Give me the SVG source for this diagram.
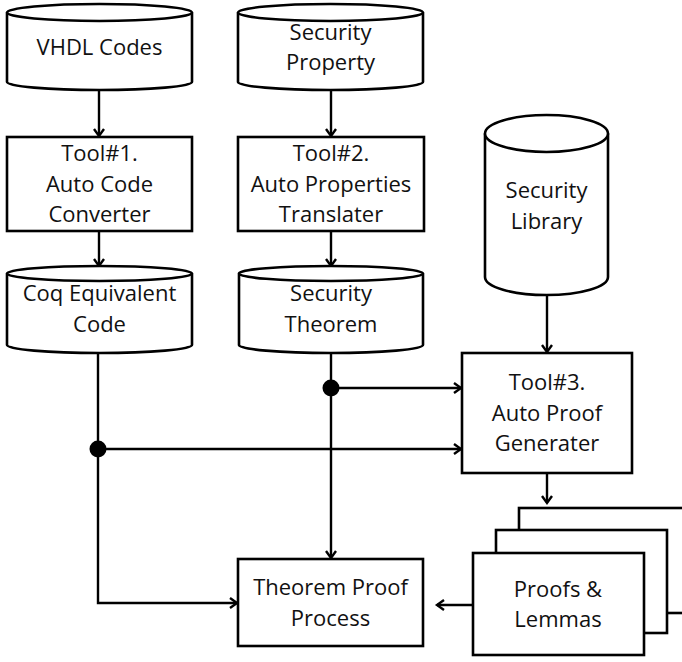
<svg xmlns="http://www.w3.org/2000/svg" width="682" height="662" viewBox="0 0 682 662">
  <style>
    .shape { fill: #ffffff; stroke: #000000; stroke-width: 2.6; }
    .wire { fill: none; stroke: #000000; stroke-width: 2.4; }
    .dot { fill: #000000; }
    .label { font-family: "Open Sans", "Liberation Sans", sans-serif; font-size: 22px; fill: #111111; text-anchor: middle; }
  </style>
  <defs>
    <marker id="arrow" markerUnits="userSpaceOnUse" markerWidth="14" markerHeight="14" refX="9" refY="6" orient="auto">
      <path d="M2,1 L9,6 L2,11" fill="none" stroke="#000000" stroke-width="2.4"/>
    </marker>
  </defs>
  <rect width="682" height="662" fill="#ffffff"/>

  <!-- connectors -->
  <g id="connectors">
    <line class="wire" x1="99" y1="90" x2="99" y2="136" marker-end="url(#arrow)"/>
    <line class="wire" x1="331" y1="90" x2="331" y2="136" marker-end="url(#arrow)"/>
    <line class="wire" x1="99" y1="231" x2="99" y2="266" marker-end="url(#arrow)"/>
    <line class="wire" x1="331" y1="231" x2="331" y2="266" marker-end="url(#arrow)"/>
    <line class="wire" x1="547" y1="295" x2="547" y2="352" marker-end="url(#arrow)"/>
    <line class="wire" x1="331" y1="353" x2="331" y2="558" marker-end="url(#arrow)"/>
    <line class="wire" x1="331" y1="388" x2="461" y2="388" marker-end="url(#arrow)"/>
    <polyline class="wire" points="98,353 98,603 237,603" marker-end="url(#arrow)"/>
    <line class="wire" x1="98" y1="449" x2="461" y2="449" marker-end="url(#arrow)"/>
    <line class="wire" x1="547" y1="473" x2="547" y2="503" marker-end="url(#arrow)"/>
    <line class="wire" x1="473" y1="605" x2="437" y2="605" marker-end="url(#arrow)"/>
    <circle class="dot" cx="331" cy="388" r="8.5"/>
    <circle class="dot" cx="98" cy="449" r="8.5"/>
  </g>

  <!-- VHDL Codes (store) -->
  <g id="vhdl-codes">
    <path class="shape" d="M7,12.5 L7,82 A92.5,8 0 0 0 192,82 L192,12.5"/>
    <ellipse class="shape" cx="99.5" cy="12.5" rx="92.5" ry="8.5"/>
    <text class="label" x="99.5" y="55">VHDL Codes</text>
  </g>

  <!-- Security Property (store) -->
  <g id="security-property">
    <path class="shape" d="M238,12.5 L238,82 A92.5,8 0 0 0 423,82 L423,12.5"/>
    <ellipse class="shape" cx="330.5" cy="12.5" rx="92.5" ry="8.5"/>
    <text class="label" x="330.5" y="40">Security</text>
    <text class="label" x="330.5" y="70">Property</text>
  </g>

  <!-- Tool#1 -->
  <g id="tool1">
    <rect class="shape" x="7" y="137" width="185" height="94"/>
    <text class="label" x="99.5" y="161">Tool#1.</text>
    <text class="label" x="99.5" y="192">Auto Code</text>
    <text class="label" x="99.5" y="222">Converter</text>
  </g>

  <!-- Tool#2 -->
  <g id="tool2">
    <rect class="shape" x="238" y="137" width="186" height="94"/>
    <text class="label" x="331" y="161">Tool#2.</text>
    <text class="label" x="331" y="192">Auto Properties</text>
    <text class="label" x="331" y="222">Translater</text>
  </g>

  <!-- Coq Equivalent Code (store) -->
  <g id="coq-code">
    <path class="shape" d="M7,273.5 L7,345 A92.5,8 0 0 0 192,345 L192,273.5"/>
    <ellipse class="shape" cx="99.5" cy="273.5" rx="92.5" ry="7.5"/>
    <text class="label" x="99.5" y="301">Coq Equivalent</text>
    <text class="label" x="99.5" y="332">Code</text>
  </g>

  <!-- Security Theorem (store) -->
  <g id="security-theorem">
    <path class="shape" d="M239,273.5 L239,345 A92,8 0 0 0 423,345 L423,273.5"/>
    <ellipse class="shape" cx="331" cy="273.5" rx="92" ry="7.5"/>
    <text class="label" x="331" y="301">Security</text>
    <text class="label" x="331" y="332">Theorem</text>
  </g>

  <!-- Security Library (store) -->
  <g id="security-library">
    <path class="shape" d="M485,133.5 L485,277 A61.5,18 0 0 0 608,277 L608,133.5"/>
    <ellipse class="shape" cx="546.5" cy="133.5" rx="61.5" ry="18.5"/>
    <text class="label" x="546.5" y="198">Security</text>
    <text class="label" x="546.5" y="229">Library</text>
  </g>

  <!-- Tool#3 -->
  <g id="tool3">
    <rect class="shape" x="462" y="353" width="170" height="120"/>
    <text class="label" x="547" y="390">Tool#3.</text>
    <text class="label" x="547" y="421">Auto Proof</text>
    <text class="label" x="547" y="451">Generater</text>
  </g>

  <!-- Proofs & Lemmas (stacked documents) -->
  <g id="proofs-lemmas">
    <rect class="shape" x="519" y="508" width="200" height="105"/>
    <rect class="shape" x="496" y="530" width="171" height="103"/>
    <rect class="shape" x="473" y="553" width="171" height="102"/>
    <text class="label" x="558" y="597">Proofs &amp;</text>
    <text class="label" x="558" y="627">Lemmas</text>
  </g>

  <!-- Theorem Proof Process -->
  <g id="theorem-proof-process">
    <rect class="shape" x="238" y="559" width="185" height="87"/>
    <text class="label" x="330.5" y="595">Theorem Proof</text>
    <text class="label" x="330.5" y="626">Process</text>
  </g>
</svg>
